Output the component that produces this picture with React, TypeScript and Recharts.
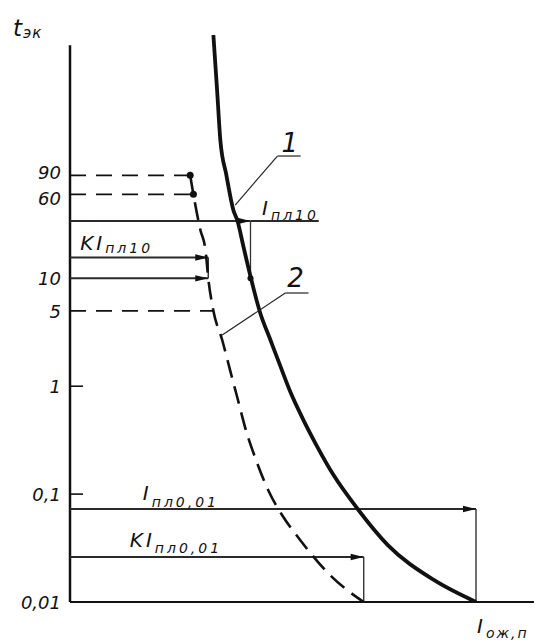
import React from "react";
import { ComposedChart, Line, XAxis, YAxis, ReferenceLine, ReferenceDot } from "recharts";

const FONT = "'DejaVu Sans', 'Liberation Sans', sans-serif";
const INK = "#111";

// Y axis ticks (time t_эк, logarithmic)
const yTickValues = [0.01, 0.1, 1, 5, 10, 60, 90];
const yTickLabels = ["0,01", "0,1", "1", "5", "10", "60", "90"];
const yTickNudge = [0, 0, 0, 0, 0, 4, -3];

// Curve 1 (solid) : current vs time
const curve1I = [30.9, 31.7, 32.4, 33.7, 35.2, 36.1, 37.4, 39.0, 41.0, 43.2, 45.4, 47.5, 50.1, 53.1, 56.8, 62.0, 68.5, 78.4, 87.5];
const curve1T = [1800, 556, 191, 90.6, 43.0, 34.0, 19.5, 10, 4.77, 2.68, 1.51, 0.883, 0.507, 0.285, 0.15, 0.0728, 0.0337, 0.016, 0.01];

// Curve 2 (dashed)
const curve2I = [25.9, 26.6, 28.1, 29.2, 29.8, 30.9, 32.8, 34.5, 36.2, 37.9, 40.1, 42.7, 45.7, 49.6, 56.0, 63.3];
const curve2T = [90, 60, 28.1, 18.3, 10, 5, 2.68, 1.41, 0.745, 0.393, 0.207, 0.109, 0.064, 0.0376, 0.0178, 0.01];

// dashed reference levels (t) and where they meet curve 2 (I)
const dashLevelT = [90, 60, 5];
const dashLevelI = [25.9, 26.6, 30.9];
const dotLevelT = [90, 60];
const dotLevelI = [25.9, 26.6];

// solid arrow levels
const levelT = [34, 15.6, 10, 0.0728, 0.0261]; // I_пл10, KI_пл10, 10, I_пл0,01, KI_пл0,01
const levelI = [38.9, 29.8, 29.8, 87.5, 63.3];
const levelLineEnd = 53.6; // I_пл10 line extends past the arrow
const yAxisTop = 1450;

const curve1 = curve1I.map((i, k) => ({ i, t: curve1T[k] }));
const curve2 = curve2I.map((i, k) => ({ i, t: curve2T[k] }));

const ArrowShape = (p: any) => {
  const { x1, y1, x2, y2 } = p;
  const ang = Math.atan2(y2 - y1, x2 - x1);
  const L = 13, W = 3.2;
  const bx = x2 - L * Math.cos(ang), by = y2 - L * Math.sin(ang);
  const nx = -Math.sin(ang) * W, ny = Math.cos(ang) * W;
  return (
    <g>
      <line x1={x1} y1={y1} x2={x2} y2={y2} stroke="#2a2a2a" strokeWidth={2} />
      <polygon points={`${x2},${y2} ${bx + nx},${by + ny} ${bx - nx},${by - ny}`} fill={INK} />
    </g>
  );
};

const SubText = ({ x, y, main, sub, mainSize = 20, subSize = 14, subDy = 5, ls = 3, mls = 3 }: any) => (
  <text x={x} y={y} fontFamily={FONT} fontStyle="italic" fill={INK}>
    <tspan fontSize={mainSize} letterSpacing={mls}>{main}</tspan>
    <tspan fontSize={subSize} dy={subDy} dx={0} letterSpacing={ls}>{sub}</tspan>
  </text>
);

const YTick = (p: any) => {
  const { x, y, payload } = p;
  const idx = yTickValues.indexOf(payload.value);
  const mark = payload.value === 1 || payload.value === 0.1;
  return (
    <g>
      <text x={x - 9} y={y + 7 + yTickNudge[idx]} textAnchor="end" fontFamily={FONT} fontStyle="italic" fontSize={18} fill={INK}>
        {yTickLabels[idx]}
      </text>
      {mark && <line x1={x} x2={x + 13} y1={y} y2={y} stroke={INK} strokeWidth={1.6} />}
    </g>
  );
};

const YTitle = (p: any) => {
  const vb = p.viewBox;
  return <SubText x={vb.x + 13} y={vb.y + 1} main="t" sub="эк" mainSize={23} subSize={15} subDy={2} ls={1} mls={1} />;
};

const XTitle = (p: any) => {
  const vb = p.viewBox;
  return <SubText x={vb.x + vb.width - 57} y={vb.y + 31} main="I" sub="ож,п" mainSize={20} subSize={14} subDy={5} ls={2} />;
};

const labelShape = (main: string, sub: string, dyMain: number, subDy: number) => (p: any) => (
  <SubText x={p.cx} y={p.cy + dyMain} main={main} sub={sub} subDy={subDy} />
);

const numShape = (txt: string, dx: number, dy: number) => (p: any) => (
  <text x={p.cx + dx} y={p.cy + dy} fontFamily={FONT} fontStyle="italic" fontSize={26} fill={INK}>{txt}</text>
);

export default function App() {
  return (
    <div style={{ position: "absolute", left: 0, top: 0, width: 542, height: 640, background: "#fff" }}>
      <ComposedChart width={542} height={640} margin={{ top: 35, right: 8, bottom: 0, left: 0 }}>
        <XAxis
          type="number"
          dataKey="i"
          domain={[0, 100]}
          allowDataOverflow
          tick={false}
          tickLine={false}
          height={38}
          axisLine={{ stroke: INK, strokeWidth: 2 }}
          label={{ content: XTitle }}
        />
        <YAxis
          type="number"
          dataKey="t"
          scale="log"
          domain={[0.01, 1800]}
          allowDataOverflow
          ticks={yTickValues}
          interval={0}
          tick={<YTick />}
          tickLine={false}
          tickSize={0}
          tickMargin={0}
          axisLine={false}
          width={70}
          label={{ content: YTitle }}
        />

        {/* Y axis line */}
        <ReferenceLine segment={[{ x: 0, y: 0.01 }, { x: 0, y: yAxisTop }]} stroke={INK} strokeWidth={2.5} ifOverflow="visible" />

        {/* dashed levels */}
        {dashLevelT.map((t, k) => (
          <ReferenceLine key={"d" + k} segment={[{ x: 0, y: t }, { x: dashLevelI[k], y: t }]} stroke={INK} strokeWidth={1.8} strokeDasharray="16 10" ifOverflow="visible" />
        ))}
        {dotLevelT.map((t, k) => (
          <ReferenceDot key={"p" + k} x={dotLevelI[k]} y={t} r={3.5} fill={INK} stroke="none" ifOverflow="visible" />
        ))}

        {/* I_пл10 line */}
        <ReferenceLine segment={[{ x: 0, y: levelT[0] }, { x: levelI[0], y: levelT[0] }]} ifOverflow="visible" shape={ArrowShape} />
        <ReferenceLine segment={[{ x: levelI[0], y: levelT[0] }, { x: levelLineEnd, y: levelT[0] }]} stroke="#2a2a2a" strokeWidth={2} ifOverflow="visible" />
        <ReferenceLine segment={[{ x: levelI[0], y: levelT[0] }, { x: levelI[0], y: levelT[2] }]} stroke="#333" strokeWidth={1.3} ifOverflow="visible" />
        <ReferenceDot x={levelI[0]} y={levelT[2]} r={3} fill={INK} stroke="none" ifOverflow="visible" />

        {/* KI_пл10 and 10 */}
        <ReferenceLine segment={[{ x: 0, y: levelT[1] }, { x: levelI[1], y: levelT[1] }]} ifOverflow="visible" shape={ArrowShape} />
        <ReferenceLine segment={[{ x: levelI[1], y: levelT[1] }, { x: levelI[1], y: levelT[2] }]} stroke="#333" strokeWidth={1.5} ifOverflow="visible" />
        <ReferenceLine segment={[{ x: 0, y: levelT[2] }, { x: levelI[2], y: levelT[2] }]} ifOverflow="visible" shape={ArrowShape} />

        {/* I_пл0,01 and KI_пл0,01 */}
        <ReferenceLine segment={[{ x: 0, y: levelT[3] }, { x: levelI[3], y: levelT[3] }]} ifOverflow="visible" shape={ArrowShape} />
        <ReferenceLine segment={[{ x: levelI[3], y: levelT[3] }, { x: levelI[3], y: 0.01 }]} stroke="#333" strokeWidth={1.4} ifOverflow="visible" />
        <ReferenceLine segment={[{ x: 0, y: levelT[4] }, { x: levelI[4], y: levelT[4] }]} ifOverflow="visible" shape={ArrowShape} />
        <ReferenceLine segment={[{ x: levelI[4], y: levelT[4] }, { x: levelI[4], y: 0.01 }]} stroke="#333" strokeWidth={1.4} ifOverflow="visible" />

        {/* curves */}
        <Line data={curve2} dataKey="t" type="monotone" stroke={INK} strokeWidth={2.6} strokeDasharray="18 9" dot={false} activeDot={false} isAnimationActive={false} />
        <Line data={curve1} dataKey="t" type="monotone" stroke={INK} strokeWidth={3.8} dot={false} activeDot={false} isAnimationActive={false} />

        {/* leaders 1 and 2 */}
        <ReferenceLine segment={[{ x: 35.6, y: 47.8 }, { x: 44.7, y: 136 }]} stroke="#222" strokeWidth={1.2} ifOverflow="visible" />
        <ReferenceLine segment={[{ x: 44.7, y: 136 }, { x: 49.7, y: 136 }]} stroke="#222" strokeWidth={1.2} ifOverflow="visible" />
        <ReferenceDot x={44.7} y={136} r={0} ifOverflow="visible" shape={numShape("1", 4, -4)} />
        <ReferenceLine segment={[{ x: 32.8, y: 2.98 }, { x: 46.4, y: 7.31 }]} stroke="#222" strokeWidth={1.2} ifOverflow="visible" />
        <ReferenceLine segment={[{ x: 46.4, y: 7.31 }, { x: 51.4, y: 7.31 }]} stroke="#222" strokeWidth={1.2} ifOverflow="visible" />
        <ReferenceDot x={46.4} y={7.31} r={0} ifOverflow="visible" shape={numShape("2", 2, -6)} />

        {/* text labels */}
        <ReferenceDot x={41.4} y={levelT[0]} r={0} ifOverflow="visible" shape={labelShape("I", "пл10", -6, 5)} />
        <ReferenceDot x={2.2} y={levelT[1]} r={0} ifOverflow="visible" shape={labelShape("KI", "пл10", -7, 3)} />
        <ReferenceDot x={15.7} y={levelT[3]} r={0} ifOverflow="visible" shape={labelShape("I", "пл0,01", -9, 7)} />
        <ReferenceDot x={12.9} y={levelT[4]} r={0} ifOverflow="visible" shape={labelShape("KI", "пл0,01", -10, 6)} />
      </ComposedChart>
    </div>
  );
}
